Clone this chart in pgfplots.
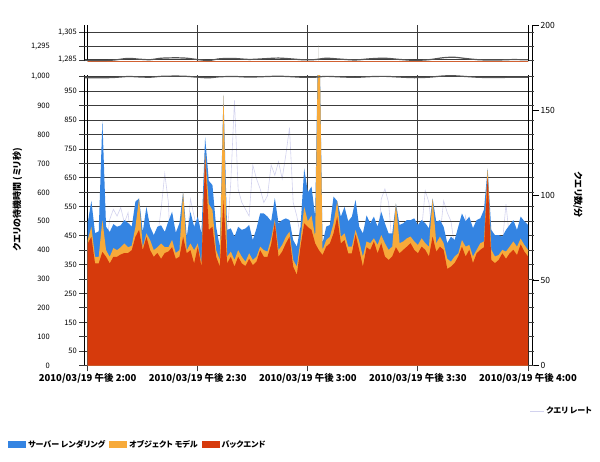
\documentclass[border=0pt]{standalone}
\usepackage{fontspec}
\setmainfont{Noto Sans CJK JP}[RawFeature=+palt]
\usepackage{pgfplots}
\pgfplotsset{compat=1.18}
\usepackage{pgfplotstable}
\definecolor{srv}{RGB}{52,132,226}
\definecolor{obj}{RGB}{247,170,58}
\definecolor{bk}{RGB}{214,58,12}
\definecolor{qr}{RGB}{210,210,238}
\definecolor{gridc}{RGB}{60,60,60}
\definecolor{wavec}{RGB}{85,85,85}

\pgfplotstableread{
m red org blu q
0 423 435 494 70
1 446 481 571 78
2 354 377 459 65
3 354 377 465 72
4 394 504 850 80
5 377 400 481 68
6 354 377 463 86
7 377 407 490 92
8 377 400 481 88
9 385 410 486 93
10 390 423 504 84
11 390 410 494 90
12 400 415 481 70
13 446 480 568 75
14 470 579 579 62
15 400 410 463 58
16 446 458 550 66
17 400 435 481 72
18 377 400 452 68
19 390 410 481 75
20 370 423 486 92
21 390 410 463 113
22 395 410 500 96
23 410 435 533 44
24 370 390 460 80
25 377 400 493 72
26 446 602 602 82
27 389 400 446 70
28 400 423 533 98
29 354 400 481 88
30 412 423 516 78
31 343 354 458 72
32 723 735 792 90
33 470 560 640 76
34 481 539 625 82
35 377 400 481 70
36 343 366 412 66
37 573 937 937 84
38 354 377 470 75
39 377 395 475 108
40 343 366 446 156
41 377 400 481 104
42 354 377 470 96
43 345 360 475 92
44 370 389 487 88
45 348 366 435 118
46 360 377 475 110
47 400 412 527 104
48 377 400 527 96
49 377 395 516 100
50 420 440 500 118
51 495 505 580 112
52 377 400 493 120
53 395 418 504 110
54 423 446 510 124
55 446 464 504 140
56 343 366 435 96
57 314 343 412 88
58 412 435 481 76
59 493 550 683 98
60 480 500 600 80
61 470 520 620 74
62 423 446 516 70
63 400 1296 1296 78
64 383 400 423 62
65 412 435 481 70
66 423 446 487 66
67 458 493 585 44
68 516 570 570 80
69 423 446 516 72
70 435 458 550 68
71 389 412 500 74
72 389 412 516 70
73 455 470 574 64
74 401 430 481 37
75 343 378 458 66
76 410 430 520 72
77 401 424 493 70
78 430 441 516 74
79 389 418 481 68
80 424 452 533 98
81 378 424 493 104
82 366 401 458 96
83 378 412 458 70
84 410 562 562 74
85 389 424 487 68
86 401 430 493 72
87 412 441 504 70
88 424 447 504 76
89 401 430 510 72
90 389 418 487 70
91 412 441 504 80
92 401 424 493 103
93 378 412 476 96
94 447 579 579 74
95 395 424 498 70
96 412 447 504 76
97 401 424 481 97
98 335 370 424 90
99 343 360 447 85
100 355 378 435 70
101 378 389 481 72
102 412 435 527 76
103 378 412 500 88
104 401 418 516 72
105 355 378 476 68
106 389 401 504 70
107 401 424 510 66
108 410 430 540 37
109 654 683 683 74
110 366 401 470 38
111 355 378 452 64
112 366 383 452 68
113 389 401 447 72
114 370 395 470 95
115 389 412 487 74
116 401 430 504 70
117 383 412 470 68
118 420 440 516 72
119 395 418 500 70
120 378 401 487 66
}\data

\begin{document}
\begin{tikzpicture}[x=1pt,y=1pt]
\useasboundingbox (0,0) rectangle (600,462);

% right axis: query rate
\begin{axis}[
  at={(87.7pt,96.3pt)}, anchor=south west, scale only axis,
  width=444.3pt, height=340pt,
  xmin=0, xmax=121.09, ymin=0, ymax=200,
  axis x line=none, axis y line*=right,
  y axis line style={black, line width=0.8pt},
  ytick={0,50,100,150,200},
  tick align=outside, major tick length=7pt,
  tick style={black, line width=0.8pt},
  yticklabel style={font=\fontsize{8.5}{9}\selectfont, inner sep=1.5pt},
  /pgf/number format/assume math mode=true,
  ylabel={クエリ数/分},
  every axis y label/.style={at={(axis description cs:1.1035,0.502)}, rotate=-90, anchor=center, font=\bfseries\fontsize{9}{10}\selectfont},
  legend style={at={(axis description cs:1.142,-0.133)}, anchor=east, draw=none, fill=none, font=\bfseries\fontsize{8}{9}\selectfont, inner sep=1pt},
  legend image code/.code={\draw[#1] (0pt,0pt) -- (14pt,0pt);},
]
\addplot[qr, line width=0.6pt] table[x=m,y=q]{\data};
\addlegendentry{クエリ レート}
\end{axis}

% lower panel
\begin{axis}[
  at={(84.7pt,96.3pt)}, anchor=south west, scale only axis,
  width=443.3pt, height=290.35pt,
  xmin=-0.82, xmax=120, ymin=0, ymax=1005,
  axis line style={draw=none},
  xtick={0,30,60,90,120},
  xticklabels={2010/03/19 午後 2:00, 2010/03/19 午後 2:30, 2010/03/19 午後 3:00, 2010/03/19 午後 3:30, 2010/03/19 午後 4:00},
  xtick pos=left,
  xticklabel style={font=\bfseries\fontsize{9.5}{10}\selectfont, inner sep=1.5pt},
  ytick={50,150,...,950},
  extra y ticks={0,100,...,1000},
  extra y tick style={grid=major, major grid style={gridc, line width=1pt}, yticklabel style={xshift=-27pt}},
  extra x ticks={-0.82,0,120},
  extra x tick labels={},
  extra x tick style={grid=major, major grid style={black, line width=0.9pt}, major tick length=0pt},
  grid=major, major grid style={gridc, line width=1pt},
  tick align=outside, major tick length=5.7pt,
  tick style={gridc, line width=0.9pt},
  yticklabel style={font=\fontsize{7.5}{9}\selectfont, inner sep=2pt},
  /pgf/number format/assume math mode=true,
  /pgf/number format/1000 sep={,},
  ylabel={クエリの待機時間 (ミリ秒)},
  every axis y label/.style={at={(axis description cs:-0.1516,0.571)}, rotate=90, anchor=center, font=\bfseries\fontsize{9}{10}\selectfont},
  legend style={at={(axis description cs:-0.173,-0.273)}, anchor=west, legend columns=3, draw=none, fill=none, font=\bfseries\fontsize{8}{9}\selectfont, inner sep=0pt, /tikz/every even column/.style={column sep=2pt}},
  legend image code/.code={\fill[#1] (0pt,-3.5pt) rectangle (18pt,3.5pt);},
]
\addplot[fill=srv, draw=none] table[x=m,y=blu]{\data} \closedcycle;
\addplot[fill=obj, draw=none] table[x=m,y=org]{\data} \closedcycle;
\addplot[fill=bk, draw=none] table[x=m,y=red]{\data} \closedcycle;
\legend{サーバー レンダリング, オブジェクト モデル, バックエンド}
\addplot[wavec, line width=1.2pt, smooth, forget plot] coordinates {(-0.82,997) (3,996.5) (7,997.5) (11,1001) (14,999.5) (17,998.5) (20,1001.5) (24,1002.5) (27,1001.5) (30,998.5) (33,996.5) (36,1000) (40,1001) (44,999) (48,1000.5) (52,1002) (56,1000) (59,998) (62,998.5) (65,1001.5) (69,999.5) (73,998) (77,1000.5) (81,1001.5) (85,999) (89,997) (93,998.5) (97,1003) (100,1003.5) (103,1001) (107,998) (112,997.5) (116,998.5) (120,998)};
\end{axis}

% upper panel
\begin{axis}[
  at={(84.7pt,400.65pt)}, anchor=south west, scale only axis,
  width=443.3pt, height=36.35pt,
  xmin=-0.82, xmax=120, ymin=1284, ymax=1310.9,
  axis line style={draw=none},
  xtick={30,60,90}, xticklabels={}, xtick style={draw=none},
  extra x ticks={-0.82,0,120},
  extra x tick labels={},
  extra x tick style={grid=major, major grid style={black, line width=0.9pt}, major tick length=0pt},
  ytick={1285,1305},
  extra y ticks={1295},
  extra y tick style={grid=major, major grid style={gridc, line width=1pt}, yticklabel style={xshift=-27pt}},
  grid=major, major grid style={gridc, line width=1pt},
  tick align=outside, major tick length=5.7pt,
  ytick style={gridc, line width=0.9pt},
  yticklabel style={font=\fontsize{7.5}{9}\selectfont, inner sep=2pt},
  /pgf/number format/assume math mode=true,
  /pgf/number format/1000 sep={,},
]
\addplot[fill=srv, draw=none] table[x=m,y=blu]{\data} \closedcycle;
\addplot[fill=obj, draw=none] table[x=m,y=org]{\data} \closedcycle;
\addplot[fill=bk, draw=none] table[x=m,y=red]{\data} \closedcycle;
\addplot[wavec, line width=1.2pt, smooth] coordinates {(-0.82,1284.8) (3,1284.6) (7,1284.9) (11,1286.2) (14,1285.6) (17,1285.2) (20,1286.3) (24,1286.6) (27,1286.3) (30,1285.3) (33,1284.6) (36,1285.9) (40,1286.1) (44,1285.4) (48,1285.9) (52,1286.4) (56,1285.7) (59,1285.1) (62,1285.3) (65,1286.3) (69,1285.6) (73,1285.0) (77,1285.9) (81,1286.3) (85,1285.4) (89,1284.7) (93,1285.2) (97,1286.7) (100,1287.0) (103,1286.1) (107,1285.1) (112,1285.0) (116,1285.3) (120,1285.1)};
\end{axis}
\end{tikzpicture}
\end{document}
